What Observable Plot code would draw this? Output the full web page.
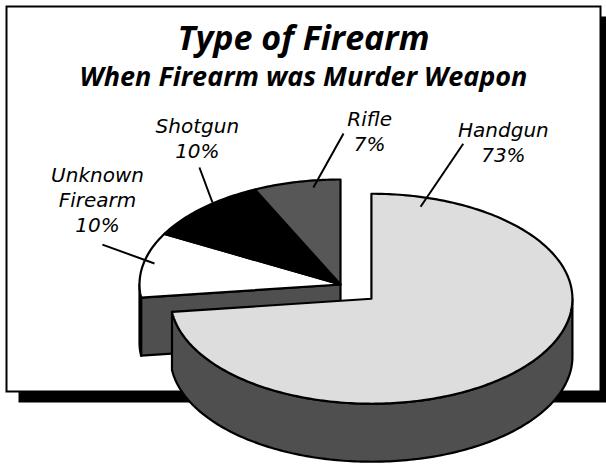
<!DOCTYPE html>
<html>
<head>
<meta charset="utf-8">
<script src="https://cdn.jsdelivr.net/npm/d3@7"></script>
<script src="https://cdn.jsdelivr.net/npm/@observablehq/plot@0.6"></script>
<style>
  html, body { margin: 0; padding: 0; background: #ffffff; }
  #chart svg { display: block; }
</style>
</head>
<body>
<div id="chart"></div>
<script>
// ---- data ----
const categories = ["Handgun", "Unknown Firearm", "Shotgun", "Rifle"];
const shares = [73, 10, 10, 7];
const explodedCategories = ["Handgun"];
const titleText = "Type of Firearm";
const subtitleText = "When Firearm was Murder Weapon";

// ---- styles ----
const topFills = {
  "Handgun": "#dddddd",
  "Unknown Firearm": "#ffffff",
  "Shotgun": "#000000",
  "Rifle": "#575757"
};
const sideFill = "#4f4f4f";

// ---- layout (pie geometry in the x/y data space) ----
const W = 606, H = 466;
const pie = {cx: 340, cy: 284, rx: 201, ry: 105, depth: 58, explode: 0.205};
// label annotation placement, polar relative to each slice's own centre: [angle deg, radius factor]
const labelPlacement = {
  "Handgun":         {inner: [15.6, 0.91],  outer: [17.2, 1.545], text: [23.05, 1.677]},
  "Unknown Firearm": {inner: [282.2, 0.947], outer: [287.8, 1.244], text: [308.8, 1.551]},
  "Shotgun":         {inner: [320.8, 1.008], outer: [327.8, 1.317], text: [333.8, 1.613]},
  "Rifle":           {inner: [351.7, 0.934], outer: [0.6, 1.438],  text: [5.5, 1.512]}
};
const labelFontSize = 20;
const lineGap = 25;

// ---- geometry ----
const rad = d => d * Math.PI / 180;
const total = d3.sum(shares);
let acc = 0;
const slices = categories.map((c, i) => {
  const a0 = acc / total * 360; acc += shares[i];
  const a1 = acc / total * 360;
  return {category: c, share: shares[i], a0, a1, exploded: explodedCategories.includes(c)};
});
function centerOf(s) {
  if (!s.exploded) return {x: pie.cx, y: pie.cy};
  const m = rad((s.a0 + s.a1) / 2);
  return {x: pie.cx + pie.explode * pie.rx * Math.sin(m), y: pie.cy - pie.explode * pie.ry * Math.cos(m)};
}
function pt(c, a, k = 1, dz = 0) {
  return {x: c.x + k * pie.rx * Math.sin(rad(a)), y: c.y - k * pie.ry * Math.cos(rad(a)) + dz};
}
function arc(c, from, to, dz = 0) {
  const pts = [];
  const n = Math.max(2, Math.ceil(Math.abs(to - from)));
  for (let i = 0; i <= n; i++) pts.push(pt(c, from + (to - from) * i / n, 1, dz));
  return pts;
}
// solids: each exploded slice alone, contiguous others together
const solids = [];
for (const s of slices) {
  const last = solids[solids.length - 1];
  if (!s.exploded && last && !last.exploded) { last.slices.push(s); last.a1 = s.a1; }
  else solids.push({exploded: s.exploded, slices: [s], a0: s.a0, a1: s.a1, center: centerOf(s)});
}
solids.sort((a, b) => a.center.y - b.center.y);

const d = pie.depth;
let pid = 0;
function polygon(points, fill) {
  const id = "p" + (pid++);
  return points.map(p => ({x: p.x, y: p.y, id, fill}));
}
const solidMarks = [];
for (const so of solids) {
  const c = so.center;
  const faces = [];
  const s = so.a0, e = so.a1;
  if (Math.sin(rad(s)) < -1e-9) {
    const P = pt(c, s);
    faces.push(...polygon([c, P, {x: P.x, y: P.y + d}, {x: c.x, y: c.y + d}], sideFill));
  }
  if (Math.sin(rad(e)) > 1e-9) {
    const P = pt(c, e);
    faces.push(...polygon([c, P, {x: P.x, y: P.y + d}, {x: c.x, y: c.y + d}], sideFill));
  }
  const lo = Math.max(s, 90), hi = Math.min(e, 270);
  if (hi > lo) faces.push(...polygon([...arc(c, lo, hi), ...arc(c, hi, lo, d)], sideFill));
  const tops = [];
  for (const sl of so.slices) tops.push(...polygon([c, ...arc(c, sl.a0, sl.a1)], topFills[sl.category]));
  const opts = {x: "x", y: "y", z: "id", fill: "fill", stroke: "black", strokeWidth: 2.2,
                strokeLinejoin: "round", curve: "linear-closed"};
  solidMarks.push(Plot.line(faces, opts), Plot.line(tops, opts));
}

// labels and leaders
const leaders = [], labelRows = [];
for (const sl of slices) {
  const c = centerOf(sl);
  const L = labelPlacement[sl.category];
  const a = pt(c, L.inner[0], L.inner[1]), b = pt(c, L.outer[0], L.outer[1]);
  leaders.push({x1: a.x, y1: a.y, x2: b.x, y2: b.y});
  const t = pt(c, L.text[0], L.text[1]);
  const lines = [...sl.category.split(" "), sl.share + "%"];
  // lineAnchor bottom: last line's baseline sits at y
  labelRows.push({x: t.x, y: t.y + (lines.length - 1) * lineGap, text: lines.join("\n")});
}

const chart = Plot.plot({
  width: W, height: H, margin: 0,
  x: {domain: [0, W], range: [0, W], axis: null},
  y: {domain: [0, H], range: [0, H], axis: null},
  color: {type: "identity"},
  style: {background: "#ffffff", fontFamily: "Open Sans"},
  marks: [
    Plot.frame({fill: "black", stroke: "none", insetLeft: 18, insetTop: 16, insetRight: -8, insetBottom: 64}),
    Plot.frame({fill: "white", stroke: "black", strokeWidth: 2, insetLeft: 6, insetTop: 6, insetRight: 6, insetBottom: 75}),
    Plot.text([titleText], {frameAnchor: "top", dy: 49, lineAnchor: "bottom", fontSize: 34,
      fontWeight: "bold", fontStyle: "italic", fontFamily: "Open Sans", fill: "black"}),
    Plot.text([subtitleText], {frameAnchor: "top", dy: 85, lineAnchor: "bottom", fontSize: 27,
      fontWeight: "bold", fontStyle: "italic", fontFamily: "Open Sans", fill: "black"}),
    ...solidMarks,
    Plot.link(leaders, {x1: "x1", y1: "y1", x2: "x2", y2: "y2", stroke: "black", strokeWidth: 2}),
    Plot.text(labelRows, {x: "x", y: "y", text: "text", textAnchor: "middle", lineAnchor: "bottom",
      lineHeight: lineGap / labelFontSize,
      fontSize: labelFontSize, fontStyle: "italic", fontFamily: "DejaVu Sans", fill: "black"})
  ]
});
document.getElementById("chart").appendChild(chart);
</script>
</body>
</html>
